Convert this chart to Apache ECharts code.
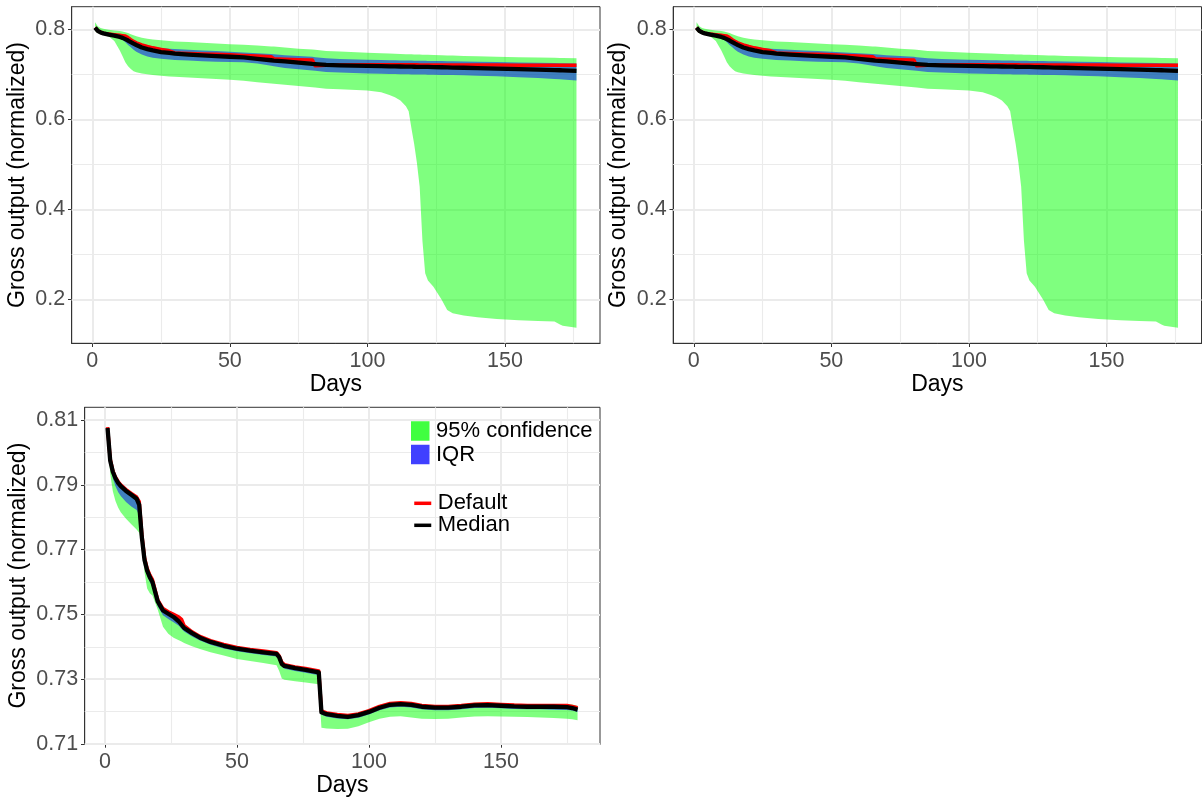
<!DOCTYPE html>
<html>
<head>
<meta charset="utf-8">
<script src="https://cdn.jsdelivr.net/npm/echarts@6/dist/echarts.min.js"></script>
<style>
html,body{margin:0;padding:0;background:#fff;}
#chart{width:1203px;height:798px;}
</style>
</head>
<body>
<div id="chart"></div>
<script>
// ---------- tick labels ----------
const xTicks = [0, 50, 100, 150];
const xMinor = [25, 75, 125, 175];
const topYTicks = [0.2, 0.4, 0.6, 0.8];
const topYMinor = [0.3, 0.5, 0.7];
const botYTicks = [0.71, 0.73, 0.75, 0.77, 0.79, 0.81];
const botYMinor = [0.72, 0.74, 0.76, 0.78, 0.80];

// ---------- top panels (both identical) ----------
const topDays = [1,2,3,4,6,8,10,11,12,13,14,15,16,18,20,22,25,28,30,35,40,45,50,55,60,65,66,70,75,80,81,85,90,100,105,108,110,112,114,115,116,117,118,119,120,121,122,124,127,129,131,135,140,147,155,162,168,170,171,176];
const topMedian = [0.8036,0.7965,0.7930,0.7910,0.7880,0.7860,0.7830,0.7810,0.7780,0.7750,
 0.7715,0.7680,0.7650,0.7595,0.7560,0.7530,0.7495,0.7475,0.7460,0.7437,
 0.7420,0.7405,0.7390,0.7375,0.7345,0.7312,0.7305,0.7285,0.7260,0.7232,
 0.7228,0.7210,0.7200,0.7187,0.7182,0.7178,0.7175,0.7173,0.7171,0.7170,
 0.7169,0.7168,0.7167,0.7166,0.7165,0.7164,0.7163,0.7160,0.7156,0.7153,
 0.7150,0.7145,0.7138,0.7126,0.7113,0.7102,0.7093,0.7090,0.7088,0.7078];
const topDefault = [0.8036,0.7968,0.7935,0.7915,0.7893,0.7878,0.7865,0.7858,0.7850,0.7815,
 0.7770,0.7730,0.7700,0.7652,0.7617,0.7588,0.7553,0.7522,0.7475,0.7463,
 0.7452,0.7443,0.7433,0.7420,0.7405,0.7390,0.7345,0.7335,0.7325,0.7318,
 0.7190,0.7200,0.7207,0.7210,0.7210,0.7210,0.7210,0.7210,0.7210,0.7210,
 0.7210,0.7210,0.7210,0.7209,0.7209,0.7209,0.7209,0.7209,0.7208,0.7208,
 0.7208,0.7207,0.7205,0.7204,0.7203,0.7202,0.7201,0.7201,0.7200,0.7200];
const topIQRHigh = [0.8040,0.7975,0.7945,0.7925,0.7900,0.7885,0.7870,0.7862,0.7852,0.7825,
 0.7790,0.7760,0.7730,0.7680,0.7640,0.7610,0.7585,0.7568,0.7560,0.7545,
 0.7530,0.7515,0.7500,0.7487,0.7470,0.7450,0.7447,0.7425,0.7405,0.7388,
 0.7380,0.7355,0.7340,0.7322,0.7316,0.7312,0.7310,0.7308,0.7306,0.7305,
 0.7304,0.7303,0.7302,0.7301,0.7300,0.7299,0.7298,0.7296,0.7293,0.7291,
 0.7289,0.7285,0.7280,0.7273,0.7264,0.7257,0.7250,0.7248,0.7247,0.7242];
const topIQRLow = [0.8030,0.7950,0.7915,0.7892,0.7860,0.7835,0.7795,0.7760,0.7710,0.7650,
 0.7600,0.7545,0.7500,0.7440,0.7395,0.7370,0.7345,0.7330,0.7320,0.7305,
 0.7292,0.7280,0.7272,0.7265,0.7240,0.7190,0.7180,0.7140,0.7110,0.7085,
 0.7080,0.7050,0.7038,0.7018,0.7012,0.7008,0.7005,0.7002,0.7000,0.6999,
 0.6998,0.6997,0.6996,0.6995,0.6994,0.6993,0.6992,0.6990,0.6987,0.6984,
 0.6982,0.6977,0.6970,0.6955,0.6935,0.6915,0.6898,0.6890,0.6885,0.6860];
const topCI95High = [0.8156,0.8070,0.8030,0.8010,0.7990,0.7975,0.7960,0.7950,0.7935,0.7915,
 0.7890,0.7865,0.7845,0.7810,0.7790,0.7775,0.7755,0.7740,0.7730,0.7715,
 0.7700,0.7685,0.7670,0.7655,0.7640,0.7620,0.7615,0.7595,0.7570,0.7550,
 0.7545,0.7520,0.7505,0.7480,0.7468,0.7462,0.7457,0.7452,0.7448,0.7446,
 0.7444,0.7442,0.7440,0.7438,0.7436,0.7434,0.7432,0.7428,0.7422,0.7419,
 0.7415,0.7408,0.7400,0.7390,0.7380,0.7372,0.7365,0.7362,0.7360,0.7356];
const topCI95Low = [0.7960,0.7910,0.7895,0.7880,0.7840,0.7740,0.7530,0.7400,0.7270,0.7180,
 0.7120,0.7070,0.7045,0.7020,0.7000,0.6985,0.6965,0.6952,0.6945,0.6930,
 0.6912,0.6898,0.6880,0.6855,0.6825,0.6795,0.6790,0.6765,0.6740,0.6710,
 0.6705,0.6680,0.6668,0.6640,0.6600,0.6540,0.6490,0.6420,0.6290,0.6180,
 0.5800,0.5450,0.5030,0.4500,0.3300,0.2580,0.2420,0.2280,0.1990,0.1760,
 0.1690,0.1640,0.1600,0.1560,0.1535,0.1520,0.1505,0.1440,0.1410,0.1370];

// ---------- bottom panel ----------
const botDays = [1,2,3,4,5,6,8,10,12,13,14,15,16,17,18,20,22,24,26,28,29,30,33,36,40,45,50,55,60,65,66,67,68,72,76,81,82,84,88,92,96,100,104,108,112,116,120,125,130,135,140,145,150,155,160,165,170,175,177,179];
const botMedian = [0.8075,0.7975,0.7940,0.7920,0.7906,0.7896,0.7881,0.7869,0.7857,0.7838,
 0.7737,0.7668,0.7635,0.7615,0.7600,0.7540,0.7512,0.7502,0.7492,0.7478,
 0.7468,0.7458,0.7442,0.7428,0.7415,0.7403,0.7394,0.7388,0.7383,0.7378,
 0.7368,0.7347,0.7341,0.7334,0.7329,0.7321,0.7198,0.7192,0.7187,0.7184,
 0.7189,0.7199,0.7212,0.7221,0.7223,0.7221,0.7215,0.7212,0.7212,0.7215,
 0.7219,0.7220,0.7218,0.7216,0.7215,0.7215,0.7215,0.7214,0.7211,0.7206];
const botDefault = [0.8078,0.7980,0.7943,0.7923,0.7910,0.7900,0.7885,0.7873,0.7862,0.7848,
 0.7745,0.7675,0.7642,0.7622,0.7607,0.7545,0.7518,0.7508,0.7500,0.7492,
 0.7485,0.7465,0.7446,0.7432,0.7419,0.7407,0.7398,0.7392,0.7387,0.7382,
 0.7372,0.7352,0.7345,0.7338,0.7333,0.7325,0.7202,0.7196,0.7191,0.7188,
 0.7193,0.7203,0.7216,0.7225,0.7227,0.7225,0.7219,0.7216,0.7216,0.7219,
 0.7223,0.7224,0.7222,0.7220,0.7219,0.7219,0.7219,0.7219,0.7216,0.7212];
const botIQRHigh = [0.8077,0.7978,0.7942,0.7922,0.7908,0.7898,0.7883,0.7871,0.7859,0.7842,
 0.7740,0.7671,0.7638,0.7618,0.7603,0.7543,0.7515,0.7505,0.7495,0.7481,
 0.7471,0.7461,0.7445,0.7431,0.7418,0.7405,0.7397,0.7391,0.7386,0.7381,
 0.7371,0.7350,0.7344,0.7337,0.7332,0.7324,0.7201,0.7195,0.7190,0.7187,
 0.7192,0.7202,0.7215,0.7224,0.7226,0.7224,0.7218,0.7215,0.7215,0.7218,
 0.7222,0.7223,0.7221,0.7219,0.7218,0.7218,0.7218,0.7217,0.7215,0.7211];
const botIQRLow = [0.8075,0.7965,0.7920,0.7895,0.7878,0.7865,0.7847,0.7833,0.7822,0.7806,
 0.7725,0.7655,0.7620,0.7600,0.7585,0.7525,0.7497,0.7486,0.7476,0.7465,
 0.7456,0.7447,0.7432,0.7419,0.7406,0.7395,0.7386,0.7380,0.7375,0.7370,
 0.7358,0.7338,0.7332,0.7325,0.7320,0.7312,0.7190,0.7184,0.7179,0.7176,
 0.7181,0.7191,0.7204,0.7213,0.7215,0.7213,0.7207,0.7204,0.7204,0.7207,
 0.7211,0.7212,0.7210,0.7208,0.7207,0.7207,0.7206,0.7205,0.7203,0.7199];
const botCI95High = [0.8082,0.7985,0.7948,0.7928,0.7914,0.7904,0.7889,0.7877,0.7866,0.7852,
 0.7750,0.7680,0.7646,0.7626,0.7611,0.7549,0.7522,0.7511,0.7503,0.7495,
 0.7488,0.7468,0.7449,0.7435,0.7422,0.7410,0.7401,0.7395,0.7390,0.7385,
 0.7375,0.7355,0.7348,0.7341,0.7336,0.7328,0.7205,0.7199,0.7194,0.7191,
 0.7197,0.7207,0.7220,0.7229,0.7231,0.7229,0.7223,0.7220,0.7220,0.7223,
 0.7227,0.7228,0.7226,0.7224,0.7223,0.7223,0.7223,0.7223,0.7222,0.7217];
const botCI95Low = [0.8070,0.7935,0.7880,0.7850,0.7830,0.7815,0.7795,0.7778,0.7762,0.7752,
 0.7715,0.7630,0.7580,0.7565,0.7558,0.7515,0.7462,0.7440,0.7428,0.7420,
 0.7416,0.7412,0.7402,0.7393,0.7383,0.7373,0.7362,0.7356,0.7350,0.7343,
 0.7325,0.7302,0.7298,0.7294,0.7290,0.7284,0.7150,0.7148,0.7146,0.7147,
 0.7155,0.7167,0.7178,0.7184,0.7186,0.7182,0.7178,0.7177,0.7178,0.7182,
 0.7185,0.7186,0.7185,0.7184,0.7183,0.7182,0.7180,0.7178,0.7176,0.7173];

// ---------- styling ----------
const FONT = 'Liberation Sans, Arial, Helvetica, sans-serif';
const GREEN = 'rgba(0,255,0,0.5)';
const BLUE = 'rgba(0,0,255,0.5)';
const GRID_COL = '#EBEBEB';

const grids = [
  {left: 71.7, top: 6.7, width: 528.3, height: 336.6},
  {left: 673.2, top: 6.7, width: 528.3, height: 336.6},
  {left: 84.7, top: 407.3, width: 515.3, height: 338.4}
];

function mkX(gi, min, max) {
  return {
    type: 'value', gridIndex: gi, min: min, max: max,
    name: 'Days', nameLocation: 'middle', nameGap: 30,
    nameTextStyle: {fontSize: 23, color: '#000', fontFamily: FONT},
    axisLine: {show: true, onZero: false, lineStyle: {color: '#333', width: 1}},
    axisTick: {show: true, length: 3.7, lineStyle: {color: '#333', width: 1}, customValues: xTicks},
    axisLabel: {margin: 6.6, fontSize: 21.5, color: '#4D4D4D', fontFamily: FONT, customValues: xTicks,
      formatter: v => String(v)},
    splitLine: {show: false}
  };
}
function mkY(gi, min, max, ticks, gap) {
  return {
    type: 'value', gridIndex: gi, min: min, max: max,
    name: 'Gross output (normalized)', nameLocation: 'middle', nameGap: gap,
    nameTextStyle: {fontSize: 23, color: '#000', fontFamily: FONT},
    axisLine: {show: true, onZero: false, lineStyle: {color: '#333', width: 1}},
    axisTick: {show: true, length: 3.7, lineStyle: {color: '#333', width: 1}, customValues: ticks},
    axisLabel: {margin: 6.6, fontSize: 21.5, color: '#4D4D4D', fontFamily: FONT, customValues: ticks,
      formatter: v => String(v)},
    splitLine: {show: false}
  };
}

function gridLines(yMajor, yMinor) {
  const d = [];
  xMinor.forEach(v => d.push({xAxis: v, lineStyle: {width: 1.1}}));
  yMinor.forEach(v => d.push({yAxis: v, lineStyle: {width: 1.1}}));
  xTicks.forEach(v => d.push({xAxis: v, lineStyle: {width: 2}}));
  yMajor.forEach(v => d.push({yAxis: v, lineStyle: {width: 2}}));
  return {
    silent: true, symbol: ['none', 'none'], label: {show: false}, animation: false, z: 1,
    lineStyle: {color: GRID_COL, type: 'solid'}, emphasis: {disabled: true},
    data: d
  };
}

// band drawn as a polygon through the axis scales (upper edge forward, lower edge back)
function bandSeries(gi, name, days, lo, hi, fill, keyColor) {
  return {
    type: 'custom', name: name, xAxisIndex: gi, yAxisIndex: gi, z: 2, silent: true, animation: false,
    data: days.map((d, i) => [d, lo[i], hi[i]]),
    encode: {x: 0, y: [1, 2]},
    itemStyle: {color: keyColor},
    renderItem: function (params, api) {
      if (params.dataIndexInside !== 0) return null;
      const pts = [];
      for (let i = 0; i < days.length; i++) pts.push(api.coord([days[i], hi[i]]));
      for (let i = days.length - 1; i >= 0; i--) pts.push(api.coord([days[i], lo[i]]));
      return {type: 'polygon', shape: {points: pts}, style: {fill: fill, stroke: null}, silent: true};
    }
  };
}

function panelSeries(gi, days, ciLo, ciHi, iqLo, iqHi, def, med, yMajor, yMinor) {
  const pair = arr => days.map((d, i) => [d, arr[i]]);
  const common = {type: 'line', xAxisIndex: gi, yAxisIndex: gi, symbol: 'none', showSymbol: false, animation: false};
  return [
    Object.assign({}, common, {data: pair(ciLo), lineStyle: {width: 0, opacity: 0}, silent: true, z: 1,
      markLine: gridLines(yMajor, yMinor)}),
    bandSeries(gi, '95% confidence', days, ciLo, ciHi, GREEN, '#40FF40'),
    bandSeries(gi, 'IQR', days, iqLo, iqHi, BLUE, '#4040FF'),
    Object.assign({}, common, {name: 'Default', data: pair(def),
      lineStyle: {color: '#FF0000', width: 3.5, join: 'round'}, itemStyle: {color: '#FF0000'}, z: 3}),
    Object.assign({}, common, {name: 'Median', data: pair(med),
      lineStyle: {color: '#000000', width: 4.3, join: 'round'}, itemStyle: {color: '#000000'}, z: 4})
  ];
}

const series = []
  .concat(panelSeries(0, topDays, topCI95Low, topCI95High, topIQRLow, topIQRHigh, topDefault, topMedian, topYTicks, topYMinor))
  .concat(panelSeries(1, topDays, topCI95Low, topCI95High, topIQRLow, topIQRHigh, topDefault, topMedian, topYTicks, topYMinor))
  .concat(panelSeries(2, botDays, botCI95Low, botCI95High, botIQRLow, botIQRHigh, botDefault, botMedian, botYTicks, botYMinor));

const option = {
  animation: false,
  backgroundColor: '#ffffff',
  textStyle: {fontFamily: FONT},
  grid: grids.map(g => Object.assign({show: true, borderColor: '#333', borderWidth: 1, backgroundColor: 'transparent'}, g)),
  xAxis: [mkX(0, -7.49, 184.55), mkX(1, -7.49, 184.55), mkX(2, -7.65, 187.5)],
  yAxis: [mkY(0, 0.1022, 0.8502, topYTicks, 43), mkY(1, 0.1022, 0.8502, topYTicks, 43), mkY(2, 0.71, 0.8139, botYTicks, 55)],
  legend: [
    {
      left: 411, top: 420, padding: 0, orient: 'vertical', selectedMode: false,
      itemWidth: 18.5, itemHeight: 19.5, itemGap: 1.5,
      textStyle: {fontSize: 22, lineHeight: 20, color: '#000', fontFamily: FONT, padding: [0, 0, 0, 1.5]},
      data: [
        {name: '95% confidence', icon: 'rect', itemStyle: {color: '#40FF40', borderWidth: 0}},
        {name: 'IQR', icon: 'rect', itemStyle: {color: '#4040FF', borderWidth: 0}}
      ]
    },
    {
      left: 412.5, top: 492.3, padding: 0, orient: 'vertical', selectedMode: false,
      itemWidth: 17, itemHeight: 3, itemGap: 0,
      lineStyle: {width: 3.5},
      textStyle: {fontSize: 22, lineHeight: 20, color: '#000', fontFamily: FONT, padding: [0, 0, 0, 1.5]},
      data: ['Default', 'Median']
    }
  ],
  series: series
};

const chart = echarts.init(document.getElementById('chart'), null, {renderer: 'canvas'});
chart.setOption(option);
</script>
</body>
</html>
